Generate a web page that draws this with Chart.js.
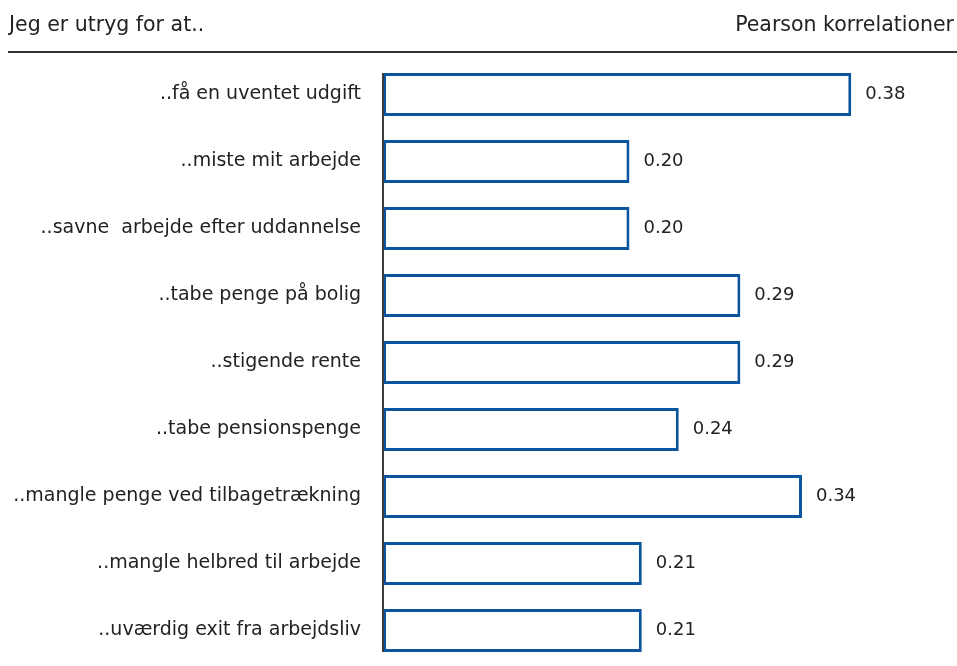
<!DOCTYPE html>
<html>
<head>
<meta charset="utf-8">
<script src="https://cdn.jsdelivr.net/npm/chart.js@4"></script>
<style>
  html, body { margin: 0; padding: 0; background: #fff; }
  #wrap { width: 957px; height: 666px; }
</style>
</head>
<body>
<div id="wrap"><canvas id="chart" width="957" height="666"></canvas></div>
<script>
const categories = [
  '..få en uventet udgift',
  '..miste mit arbejde',
  '..savne  arbejde efter uddannelse',
  '..tabe penge på bolig',
  '..stigende rente',
  '..tabe pensionspenge',
  '..mangle penge ved tilbagetrækning',
  '..mangle helbred til arbejde',
  '..uværdig exit fra arbejdsliv',
];
const correlations = [0.38, 0.20, 0.20, 0.29, 0.29, 0.24, 0.34, 0.21, 0.21];
const headerLeft = 'Jeg er utryg for at..';
const headerRight = 'Pearson korrelationer';

const BLUE = '#0b549e';
const TEXT = '#222222';
const FONT = "'DejaVu Sans', sans-serif";

// header, axis line and the value labels next to each bar
const decorations = {
  id: 'decorations',
  afterDraw(chart) {
    const ctx = chart.ctx;
    const area = chart.chartArea;
    const meta = chart.getDatasetMeta(0);
    ctx.save();
    ctx.fillStyle = TEXT;
    ctx.font = '20.5px ' + FONT;
    ctx.textBaseline = 'alphabetic';
    ctx.textAlign = 'left';
    ctx.fillText(headerLeft, 9, 31);
    ctx.textAlign = 'right';
    ctx.fillText(headerRight, 954, 31);
    ctx.fillStyle = '#333333';
    ctx.fillRect(8, 51, 949, 2);

    const first = meta.data[0];
    const last = meta.data[meta.data.length - 1];
    const top = first.y - first.height / 2;
    const bottom = last.y + last.height / 2;
    ctx.fillStyle = '#3a3a3a';
    ctx.fillRect(area.left - 1, top, 2, bottom - top);

    ctx.fillStyle = TEXT;
    ctx.font = '18px ' + FONT;
    ctx.textAlign = 'left';
    ctx.textBaseline = 'middle';
    meta.data.forEach((bar, i) => {
      ctx.fillText(correlations[i].toFixed(2), bar.x + 14, bar.y);
    });
    ctx.restore();
  },
};

const chart = new Chart(document.getElementById('chart'), {
  type: 'bar',
  data: {
    labels: categories,
    datasets: [{
      data: correlations,
      backgroundColor: '#ffffff',
      borderColor: BLUE,
      borderWidth: 3,
      borderSkipped: false,
      categoryPercentage: 1,
      barPercentage: 0.64,
    }],
  },
  options: {
    responsive: false,
    animation: false,
    indexAxis: 'y',
    layout: { padding: { top: 61, bottom: 2, left: 0, right: 1 } },
    scales: {
      x: {
        display: false,
        min: 0,
        max: 0.465,
      },
      y: {
        border: { display: false },
        grid: { display: false, drawTicks: false },
        ticks: { color: TEXT, font: { family: FONT, size: 19 }, padding: 22 },
        afterFit(scale) {
          scale.width = 383;
          scale.paddingTop = 0;
          scale.paddingBottom = 0;
        },
      },
    },
    plugins: {
      legend: { display: false },
      tooltip: { enabled: false },
    },
  },
  plugins: [decorations],
});
</script>
</body>
</html>
